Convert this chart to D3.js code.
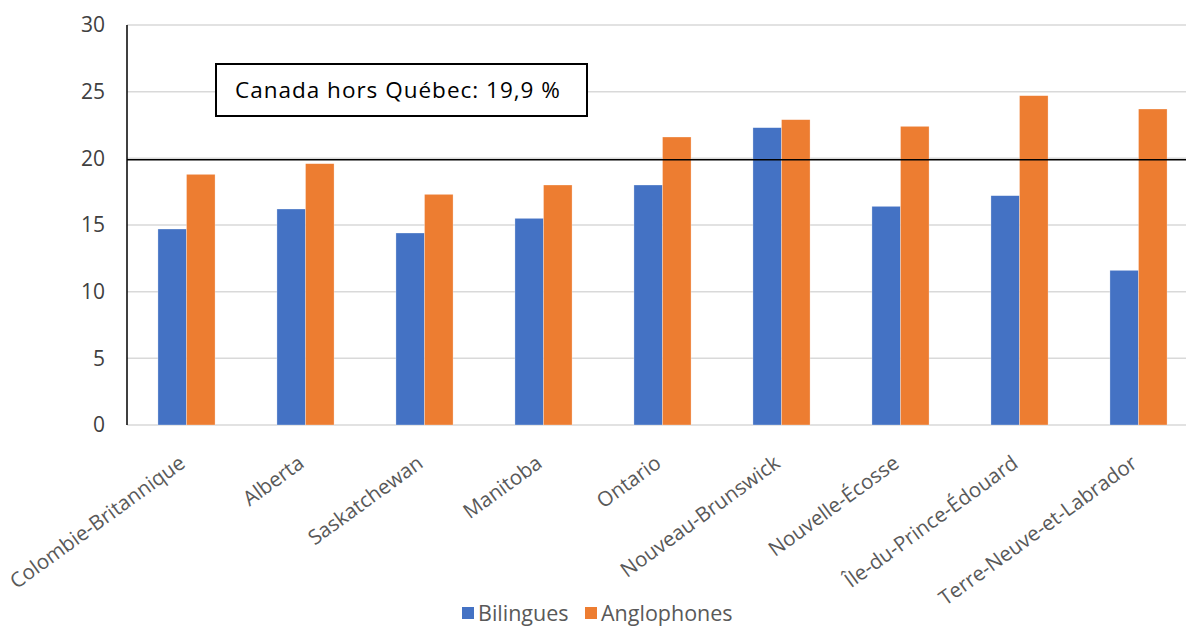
<!DOCTYPE html>
<html>
<head>
<meta charset="utf-8">
<script src="https://cdn.jsdelivr.net/npm/d3@7"></script>
<style>
  body { margin: 0; background: #fff; }
  svg { display: block; font-family: "Open Sans", sans-serif; }
</style>
</head>
<body>
<svg class="chart"></svg>
<script>
/*Chart data*/
const provinces = ["Colombie-Britannique", "Alberta", "Saskatchewan", "Manitoba", "Ontario",
  "Nouveau-Brunswick", "Nouvelle-Écosse", "Île-du-Prince-Édouard", "Terre-Neuve-et-Labrador"]
const bilingues = [14.7, 16.2, 14.4, 15.5, 18.0, 22.3, 16.4, 17.2, 11.6]
const anglophones = [18.8, 19.6, 17.3, 18.0, 21.6, 22.9, 22.4, 24.7, 23.7]
const seriesNames = ["Bilingues", "Anglophones"]
const seriesColors = ["#4472C4", "#ED7D31"]
const yTicks = [0, 5, 10, 15, 20, 25, 30]
const refValue = 19.9
const refLabel = "Canada hors Québec: 19,9 %"

const width = 1186, height = 627
const margin = { top: 25, left: 127, right: -12, bottom: 202 }

var chart = d3.select(".chart")
  .attr("width", width)
  .attr("height", height)

/*Scales*/
var x = d3.scaleBand()
  .domain(provinces)
  .range([margin.left, width - margin.right])
  .paddingInner(0)

var x1 = d3.scaleBand()
  .domain(seriesNames)
  .range([0, x.bandwidth() * 0.48])

var y = d3.scaleLinear()
  .domain([0, 30])
  .range([height - margin.bottom, margin.top])

/*Gridlines*/
chart.append("g")
  .selectAll("line")
  .data(yTicks)
  .enter()
  .append("line")
    .attr("x1", margin.left)
    .attr("x2", width)
    .attr("y1", d => y(d))
    .attr("y2", d => y(d))
    .attr("stroke", "#d9d9d9")
    .attr("stroke-width", 1.5)

/*Y tick labels*/
chart.append("g")
  .selectAll("text")
  .data(yTicks)
  .enter()
  .append("text")
    .attr("x", 105)
    .attr("y", d => y(d))
    .attr("dy", "0.35em")
    .attr("text-anchor", "end")
    .attr("fill", "#404040")
    .style("font-size", "21px")
    .text(d => d)

/*Bars*/
var rows = provinces.map((p, i) => ({ p: p, vals: [bilingues[i], anglophones[i]] }))
var groups = chart.append("g")
  .selectAll("g")
  .data(rows)
  .enter()
  .append("g")
    .attr("transform", d => "translate(" + (x(d.p) + x.bandwidth() / 2 - x1.range()[1] / 2) + ",0)")

groups.selectAll("rect")
  .data(d => d.vals.map((v, k) => ({ s: seriesNames[k], v: v, c: seriesColors[k] })))
  .enter()
  .append("rect")
    .attr("x", d => x1(d.s))
    .attr("width", x1.bandwidth())
    .attr("y", d => y(d.v))
    .attr("height", d => y(0) - y(d.v))
    .attr("fill", d => d.c)
    .attr("stroke", "#fff")
    .attr("stroke-width", 0.5)
    .attr("stroke-opacity", 0.6)

/*Left axis line*/
chart.append("line")
  .attr("x1", margin.left).attr("x2", margin.left)
  .attr("y1", y(30)).attr("y2", y(0))
  .attr("stroke", "#000").attr("stroke-width", 1.5)

/*Reference line*/
chart.append("line")
  .attr("x1", margin.left).attr("x2", width)
  .attr("y1", y(refValue)).attr("y2", y(refValue))
  .attr("stroke", "#000").attr("stroke-width", 1.5)

/*Reference label box*/
chart.append("rect")
  .attr("x", 216).attr("y", 64)
  .attr("width", 371).attr("height", 52)
  .attr("fill", "#fff").attr("stroke", "#000").attr("stroke-width", 2)
chart.append("text")
  .attr("x", 235).attr("y", 90)
  .attr("dy", "0.35em")
  .attr("fill", "#000")
  .style("font-size", "22.5px")
  .style("letter-spacing", "1px")
  .text(refLabel)

/*Category labels*/
chart.append("g")
  .selectAll("text")
  .data(provinces)
  .enter()
  .append("text")
    .attr("text-anchor", "end")
    .attr("transform", d => "translate(" + (x(d) + x.bandwidth() / 2) + "," + 466 + ") rotate(-36)")
    .attr("fill", "#595959")
    .style("font-size", "20.5px")
    .text(d => d)

/*Legend*/
var legendPos = [462, 585]
var legend = chart.append("g")
  .selectAll("g")
  .data(seriesNames)
  .enter()
  .append("g")
    .attr("transform", (d, i) => "translate(" + legendPos[i] + ",607)")
legend.append("rect")
  .attr("width", 12).attr("height", 12)
  .attr("fill", (d, i) => seriesColors[i])
legend.append("text")
  .attr("x", 16).attr("y", 6)
  .attr("dy", "0.35em")
  .attr("fill", "#595959")
  .style("font-size", "21.5px")
  .text(d => d)
</script>
</body>
</html>
